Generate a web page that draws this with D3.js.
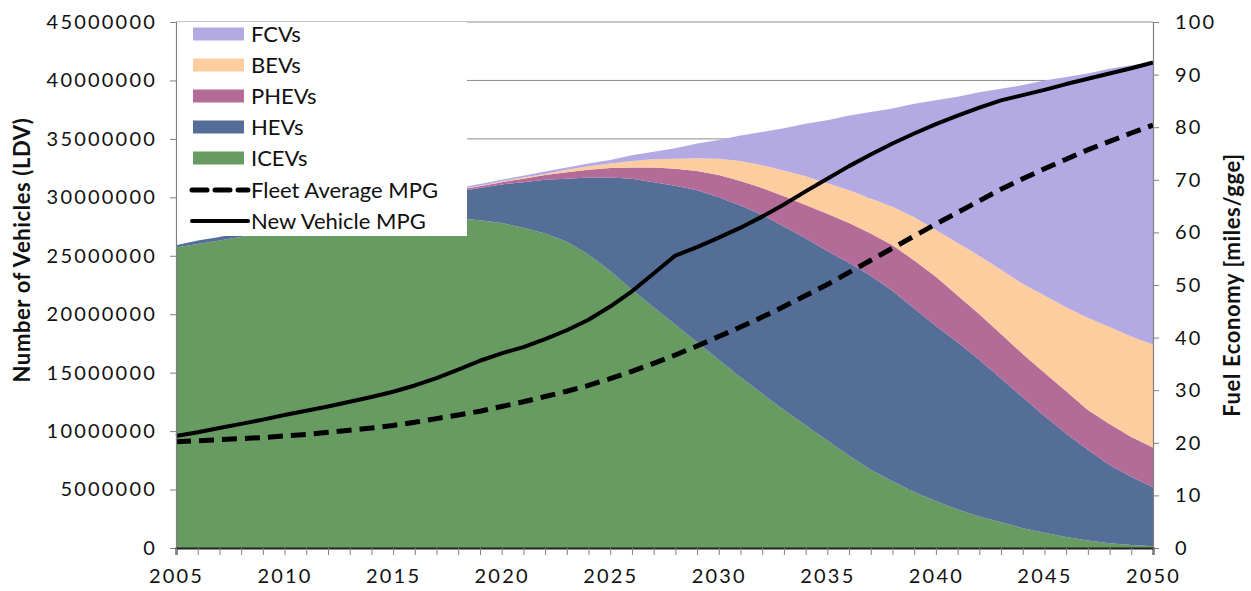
<!DOCTYPE html>
<html>
<head>
<meta charset="utf-8">
<script src="https://cdn.jsdelivr.net/npm/d3@7"></script>
<style>
  body { margin: 0; background: #fff; }
  svg text { font-family: Lato, "DejaVu Sans", sans-serif; fill: #111; }
</style>
</head>
<body>
<div id="chart"></div>
<script>
// vehicle stock, millions of vehicles
const years = [2005, 2006, 2007, 2008, 2009, 2010, 2011, 2012, 2013, 2014,
  2015, 2016, 2017, 2018, 2019, 2020, 2021, 2022, 2023, 2024,
  2025, 2026, 2027, 2028, 2029, 2030, 2031, 2032, 2033, 2034,
  2035, 2036, 2037, 2038, 2039, 2040, 2041, 2042, 2043, 2044,
  2045, 2046, 2047, 2048, 2049, 2050];

const icev = [25.7, 26.0, 26.3, 26.6, 26.9, 27.2, 27.4, 27.6, 27.8, 27.95,
  28.05, 28.15, 28.2, 28.2, 28.05, 27.8, 27.4, 26.9, 26.2, 25.1,
  23.7, 22.1, 20.6, 19.1, 17.6, 16.1, 14.6, 13.2, 11.8, 10.5,
  9.2, 7.9, 6.7, 5.7, 4.8, 4.0, 3.3, 2.7, 2.2, 1.7,
  1.3, 0.95, 0.65, 0.4, 0.25, 0.15];
const hev = [0.2, 0.3, 0.3, 0.4, 0.5, 0.5, 0.6, 0.8, 0.9, 1.15,
  1.35, 1.65, 1.9, 2.3, 2.75, 3.3, 3.9, 4.6, 5.4, 6.6,
  8.0, 9.5, 10.7, 11.9, 13.0, 13.9, 14.7, 15.3, 15.7, 16.0,
  16.2, 16.5, 16.6, 16.3, 15.7, 15.0, 14.3, 13.4, 12.3, 11.2,
  10.0, 8.85, 7.75, 6.7, 5.85, 5.05];
const phev = [0, 0, 0, 0, 0, 0.05, 0.05, 0.05, 0.1, 0.1,
  0.1, 0.1, 0.15, 0.15, 0.15, 0.2, 0.3, 0.4, 0.55, 0.65,
  0.8, 0.95, 1.25, 1.45, 1.65, 1.9, 2.1, 2.3, 2.6, 2.85,
  3.2, 3.4, 3.6, 3.9, 4.1, 4.2, 4.0, 3.9, 3.8, 3.7,
  3.7, 3.6, 3.4, 3.5, 3.4, 3.4];
const bev = [0, 0, 0, 0, 0, 0.05, 0.05, 0.05, 0.05, 0.05,
  0.05, 0.05, 0.05, 0.05, 0.05, 0.05, 0.1, 0.1, 0.2, 0.3,
  0.4, 0.55, 0.7, 0.85, 1.1, 1.4, 1.7, 1.95, 2.2, 2.45,
  2.6, 2.8, 3.0, 3.3, 3.7, 4.0, 4.5, 5.0, 5.5, 6.0,
  6.6, 7.2, 7.9, 8.3, 8.6, 8.8];
const fcv = [0, 0, 0, 0, 0, 0, 0, 0, 0.05, 0.05,
  0.05, 0.05, 0.1, 0.1, 0.15, 0.15, 0.15, 0.2, 0.2, 0.25,
  0.3, 0.5, 0.65, 0.9, 1.25, 1.6, 2.2, 2.85, 3.6, 4.5,
  5.4, 6.4, 7.4, 8.4, 9.7, 11.1, 12.5, 14.0, 15.5, 17.0,
  18.4, 19.7, 20.9, 22.1, 23.2, 24.2];

// fuel economy, miles/gge
const fleetMpg = [20.2, 20.4, 20.6, 20.8, 21.0, 21.3, 21.6, 22.0, 22.4, 22.8,
  23.3, 23.9, 24.6, 25.3, 26.0, 26.9, 27.8, 28.8, 29.8, 30.9,
  32.2, 33.6, 35.1, 36.7, 38.4, 40.2, 42.0, 43.9, 45.9, 48.0,
  50.1, 52.4, 54.7, 57.0, 59.3, 61.6, 63.8, 66.0, 68.2, 70.2,
  72.1, 73.9, 75.7, 77.3, 78.9, 80.4];
const newMpg = [21.3, 22.0, 22.8, 23.6, 24.4, 25.3, 26.1, 26.9, 27.8, 28.7,
  29.7, 30.9, 32.3, 33.9, 35.6, 37.0, 38.2, 39.7, 41.4, 43.4,
  45.9, 48.8, 52.2, 55.6, 57.2, 59.0, 60.9, 63.0, 65.3, 67.8,
  70.2, 72.6, 74.8, 76.9, 78.8, 80.6, 82.2, 83.7, 85.1, 86.1,
  87.1, 88.2, 89.2, 90.2, 91.2, 92.3];

const seriesNames = ['ICEVs', 'HEVs', 'PHEVs', 'BEVs', 'FCVs'];
const seriesColors = ['#679b62', '#546e98', '#b36b98', '#fdcda0', '#b3a9e3'];
const leftTicks = [0, 5, 10, 15, 20, 25, 30, 35, 40, 45];
const rightTicks = [0, 10, 20, 30, 40, 50, 60, 70, 80, 90, 100];
const xLabels = [2005, 2010, 2015, 2020, 2025, 2030, 2035, 2040, 2045, 2050];

const W = 1251, H = 591;
const LEFT = 176, RIGHT = 1153, TOP = 22, BOTTOM = 548;

const svg = d3.select('#chart').append('svg')
    .attr('width', W)
    .attr('height', H);

const x = d3.scaleLinear().domain([2005, 2050]).range([LEFT, RIGHT]);
const yL = d3.scaleLinear().domain([0, 45]).range([BOTTOM, TOP]);
const yR = d3.scaleLinear().domain([0, 100]).range([BOTTOM, TOP]);

const table = years.map((yr, i) => ({
    year: yr, ICEVs: icev[i], HEVs: hev[i], PHEVs: phev[i], BEVs: bev[i], FCVs: fcv[i]
}));
const stacked = d3.stack().keys(seriesNames)(table);

// gridlines behind the areas
svg.append('g').selectAll('line')
    .data(leftTicks.slice(1))
    .join('line')
        .attr('x1', LEFT).attr('x2', RIGHT)
        .attr('y1', d => yL(d)).attr('y2', d => yL(d))
        .attr('stroke', '#8c8c8c')
        .attr('stroke-width', 1);

const area = d3.area()
    .x(d => x(d.data.year))
    .y0(d => yL(d[0]))
    .y1(d => yL(d[1]));

svg.append('g').selectAll('path')
    .data(stacked)
    .join('path')
        .attr('fill', (d, i) => seriesColors[i])
        .attr('d', area);

const line = d3.line()
    .x((d, i) => x(years[i]))
    .y(d => yR(d));

svg.append('path')
    .datum(fleetMpg)
    .attr('d', line)
    .attr('fill', 'none')
    .attr('stroke', '#000')
    .attr('stroke-width', 5)
    .attr('stroke-dasharray', '15,8');

svg.append('path')
    .datum(newMpg)
    .attr('d', line)
    .attr('fill', 'none')
    .attr('stroke', '#000')
    .attr('stroke-width', 4)
    .attr('stroke-linejoin', 'round');

// axes
const fmt = d => d3.format('d')(d * 1e6);

const gLeft = svg.append('g')
    .attr('transform', `translate(${LEFT},0)`)
    .call(d3.axisLeft(yL).tickValues(leftTicks).tickFormat(fmt).tickSize(6).tickPadding(13));

const gRight = svg.append('g')
    .attr('transform', `translate(${RIGHT},0)`)
    .call(d3.axisRight(yR).tickValues(rightTicks).tickSize(6).tickPadding(16));

const gBottom = svg.append('g')
    .attr('transform', `translate(0,${BOTTOM})`)
    .call(d3.axisBottom(x).tickValues(years)
        .tickFormat(d => xLabels.includes(d) ? d : '')
        .tickSize(7).tickPadding(14));

[gLeft, gRight].forEach(g => {
    g.select('.domain').attr('stroke', '#808080').attr('stroke-width', 1.2);
    g.selectAll('.tick line').attr('stroke', '#808080');
});
gBottom.select('.domain').attr('stroke', '#222').attr('stroke-width', 2);
gBottom.selectAll('.tick line').attr('stroke', '#808080');

svg.selectAll('.tick text')
    .style('font-size', '20px')
    .style('letter-spacing', '2.2px')
    .attr('fill', '#111');

// axis titles
svg.append('text')
    .attr('transform', 'translate(30,250) rotate(-90)')
    .attr('text-anchor', 'middle')
    .style('font-size', '22px')
    .style('font-weight', 'bold')
    .style('letter-spacing', '0.6px')
    .text('Number of Vehicles (LDV)');

svg.append('text')
    .attr('transform', 'translate(1240,285) rotate(-90)')
    .attr('text-anchor', 'middle')
    .style('font-size', '22px')
    .style('font-weight', 'bold')
    .style('letter-spacing', '0.6px')
    .text('Fuel Economy [miles/gge]');

// legend
const legend = svg.append('g');
legend.append('rect')
    .attr('x', LEFT + 1).attr('y', TOP)
    .attr('width', 290).attr('height', 214)
    .attr('fill', '#fff');

const legendAreas = ['FCVs', 'BEVs', 'PHEVs', 'HEVs', 'ICEVs'];
legendAreas.forEach((name, i) => {
    const cy = 34 + i * 31;
    legend.append('rect')
        .attr('x', 193).attr('y', cy - 6.5)
        .attr('width', 51).attr('height', 13)
        .attr('fill', seriesColors[seriesNames.indexOf(name)]);
    legend.append('text')
        .attr('x', 251).attr('y', cy + 8)
        .style('font-size', '22px')
        .text(name);
});

const legendLines = [
    { name: 'Fleet Average MPG', dash: '15,8', width: 5 },
    { name: 'New Vehicle MPG', dash: null, width: 4 }
];
legendLines.forEach((l, i) => {
    const cy = 190 + i * 31;
    legend.append('line')
        .attr('x1', 192).attr('x2', 248)
        .attr('y1', cy).attr('y2', cy)
        .attr('stroke', '#000')
        .attr('stroke-width', l.width)
        .attr('stroke-linecap', 'round')
        .attr('stroke-dasharray', l.dash);
    legend.append('text')
        .attr('x', 251).attr('y', cy + 8)
        .style('font-size', '22px')
        .text(l.name);
});
</script>
</body>
</html>
